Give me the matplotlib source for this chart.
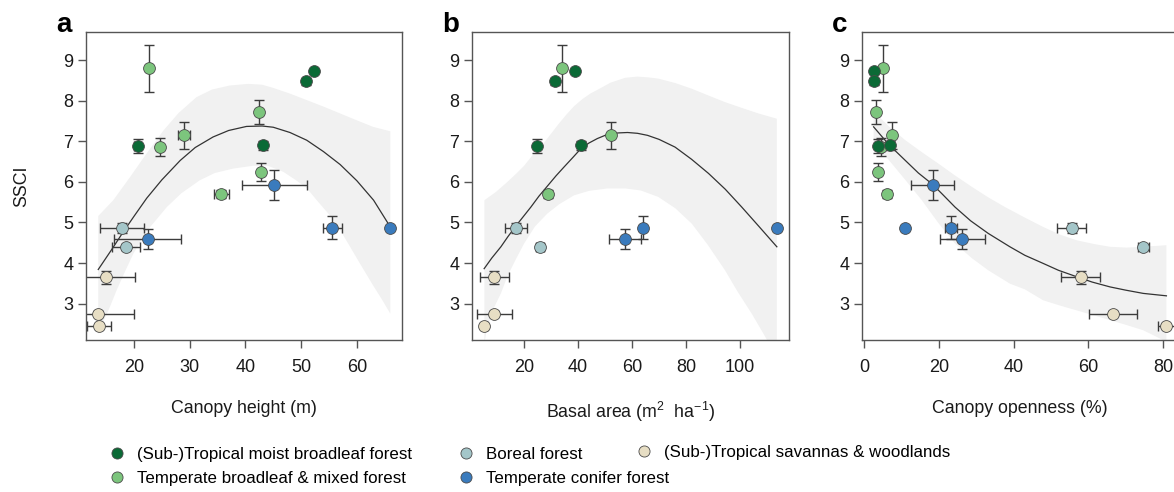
import matplotlib
matplotlib.use("Agg")
import matplotlib.pyplot as plt
from matplotlib.lines import Line2D
import numpy as np

plt.rcParams['font.family'] = ['Liberation Sans', 'DejaVu Sans']
plt.rcParams['mathtext.fontset'] = 'custom'
plt.rcParams['mathtext.rm'] = 'Liberation Sans'
plt.rcParams['mathtext.it'] = 'Liberation Sans:italic'

# one entry per site
biome = ["trop", "trop", "trop", "trop",
         "temp", "temp", "temp", "temp", "temp", "temp",
         "boreal", "boreal",
         "savanna", "savanna", "savanna",
         "conifer", "conifer", "conifer", "conifer"]
ssci = [8.74, 8.48, 6.88, 6.90,
        8.81, 7.73, 7.15, 6.87, 6.25, 5.71,
        4.87, 4.40,
        3.65, 2.75, 2.45,
        5.93, 4.60, 4.87, 4.87]
ssci_se = [0.05, 0.08, 0.17, 0.10,
           0.58, 0.30, 0.33, 0.22, 0.22, 0.10,
           0.12, 0.08,
           0.16, 0.07, 0.05,
           0.37, 0.25, 0.29, 0.03]
height = [52.3, 50.8, 20.7, 43.1,
          22.7, 42.4, 29.0, 24.7, 42.8, 35.7,
          17.9, 18.5,
          14.9, 13.5, 13.7,
          45.2, 22.5, 55.6, 66.0]
height_se = [0.4, 0.4, 0.6, 0.5,
             0.3, 0.4, 1.15, 0.3, 0.3, 1.3,
             3.95, 2.5,
             5.3, 6.5, 2.1,
             5.8, 6.0, 1.75, 0.0]
basal = [38.9, 31.6, 24.7, 41.0,
         34.2, np.nan, 52.2, np.nan, np.nan, 28.9,
         17.0, 25.9,
         9.0, 8.9, 5.3,
         np.nan, 57.3, 64.2, 113.6]
basal_se = [0.0, 0.0, 0.0, 0.0,
            0.0, 0.0, 0.0, 0.0, 0.0, 0.8,
            4.1, 1.5,
            5.5, 6.5, 0.8,
            0.0, 6.0, 0.5, 0.0]
openness = [2.5, 2.7, 3.6, 7.0,
            5.1, 3.2, 7.4, 4.5, 3.8, 6.2,
            55.5, 74.7,
            58.0, 66.7, 80.9,
            18.3, 26.3, 23.2, 10.8]
openness_se = [0.0, 0.0, 0.0, 0.0,
               0.0, 0.0, 0.0, 0.0, 0.0, 0.6,
               4.0, 1.5,
               5.2, 6.4, 2.2,
               5.8, 6.0, 1.5, 0.0]

# fitted curves and confidence bands
fit_height_x = [13.6, 16, 18, 20, 22.3, 25, 28.3, 31, 34.2, 37, 40.2, 43,
                45, 48, 51, 54, 57, 60, 63, 66]
fit_height_y = [3.84, 4.33, 4.75, 5.15, 5.60, 6.05, 6.53, 6.85, 7.11, 7.27,
                7.37, 7.38, 7.35, 7.22, 7.03, 6.75, 6.43, 6.03, 5.55, 4.89]
band_height_hi_x = [13.6, 16.3, 19.3, 22, 25.3, 28, 31.2, 34, 37.2, 40.5, 43,
                    45, 48, 51, 54, 57, 60, 62.9, 66]
band_height_hi = [5.16, 5.55, 6.12, 6.65, 7.27, 7.70, 8.09, 8.28, 8.38, 8.42,
                  8.40, 8.32, 8.18, 8.02, 7.86, 7.69, 7.52, 7.36, 7.25]
band_height_lo_x = [13.6, 14.5, 15.7, 16.9, 18.5, 19.9, 22.5, 25.9, 28.5,
                    31.8, 34.5, 37.8, 41.4, 44, 46.8, 49, 51, 52.8, 55, 57,
                    58.7, 60.5, 62.9, 64.5, 66]
band_height_lo = [2.25, 2.55, 2.92, 3.33, 3.82, 4.23, 4.82, 5.38, 5.72, 6.04,
                  6.22, 6.33, 6.40, 6.40, 6.25, 6.05, 5.85, 5.55, 5.20, 4.81,
                  4.42, 4.00, 3.45, 3.10, 2.75]

fit_basal_x = [5.2, 8, 11.4, 14, 16.9, 20, 22.5, 25.5, 28.9, 31.8, 34.8, 38,
               41, 44, 47.1, 50, 52.1, 55, 58.3, 62, 65.7, 70, 75.9, 82,
               88.3, 94.5, 100.6, 107, 113.6]
fit_basal_y = [3.86, 4.12, 4.40, 4.65, 4.91, 5.17, 5.38, 5.65, 5.92, 6.15,
               6.37, 6.60, 6.82, 6.96, 7.07, 7.15, 7.19, 7.21, 7.22, 7.20,
               7.15, 7.05, 6.86, 6.56, 6.21, 5.82, 5.38, 4.90, 4.40]
band_basal_hi_x = [5.3, 9.5, 13.8, 17, 20, 23, 26, 29.5, 33, 35.5, 38.5,
                   41.7, 44.5, 47.9, 52, 57.4, 62, 66, 69.7, 76, 82.1, 88,
                   94.4, 100.5, 106.8, 113.6]
band_basal_hi = [5.55, 5.75, 6.00, 6.20, 6.40, 6.65, 6.85, 7.15, 7.45, 7.65,
                 7.87, 8.05, 8.18, 8.30, 8.45, 8.57, 8.60, 8.58, 8.55, 8.44,
                 8.30, 8.14, 7.97, 7.83, 7.69, 7.56]
band_basal_lo_x = [5.3, 6, 8.5, 11.4, 14, 17, 20, 24, 28.6, 33, 38.5, 44,
                   50.9, 57.4, 63.2, 69.7, 76, 82.1, 88, 94.4, 99, 104.3,
                   109.3, 111.5, 113.6]
band_basal_lo = [2.00, 2.30, 2.85, 3.25, 3.70, 4.10, 4.48, 4.90, 5.22, 5.45,
                 5.67, 5.78, 5.84, 5.84, 5.79, 5.63, 5.35, 4.97, 4.45, 3.82,
                 3.30, 2.75, 2.18, 1.90, 1.60]

fit_open_x = [2.5, 6.5, 11, 14.5, 18.3, 21, 24.3, 28.5, 33.2, 39, 43, 47.9,
              52, 56.9, 61, 65.8, 70, 74.7, 80.9]
fit_open_y = [7.36, 6.93, 6.53, 6.22, 5.94, 5.69, 5.38, 5.04, 4.73, 4.40,
              4.19, 3.99, 3.82, 3.66, 3.53, 3.41, 3.33, 3.25, 3.19]
band_open_hi_x = [2.5, 6.5, 11, 15.5, 19.9, 24.3, 28.8, 33.2, 37.7, 43,
                  47.9, 52.4, 56.9, 61.4, 65.8, 70.2, 74.7, 80.9]
band_open_hi = [7.75, 7.38, 7.03, 6.73, 6.45, 6.16, 5.88, 5.62, 5.38, 5.12,
                4.89, 4.70, 4.56, 4.47, 4.40, 4.38, 4.40, 4.44]
band_open_lo_x = [2.5, 6.5, 11, 15.4, 19.9, 24.3, 28.8, 33.2, 39, 43, 47.9,
                  52.4, 56.9, 61.4, 65.8, 70.2, 74.7, 79.1, 80.9]
band_open_lo = [6.95, 6.55, 6.05, 5.55, 4.98, 4.48, 4.12, 3.82, 3.49, 3.35,
                3.08, 2.95, 2.83, 2.71, 2.59, 2.47, 2.34, 2.14, 2.05]

biome_colors = {"trop": "#0b6a36", "temp": "#7cc57d", "boreal": "#a4c6c9",
                "savanna": "#e7dec4", "conifer": "#3a7bbd"}
biome_names = {"trop": "(Sub-)Tropical moist broadleaf forest",
               "temp": "Temperate broadleaf & mixed forest",
               "boreal": "Boreal forest",
               "savanna": "(Sub-)Tropical savannas & woodlands",
               "conifer": "Temperate conifer forest"}

axis_col = "#555555"
err_col = "#3c3c3c"

biome = np.array(biome)
ssci = np.array(ssci)
ssci_se = np.array(ssci_se)

fig = plt.figure(figsize=(11.74, 4.92), dpi=100)
W, H = 1174.0, 492.0
ax_a = fig.add_axes([86 / W, 152 / H, 316 / W, 308 / H])
ax_b = fig.add_axes([472 / W, 152 / H, 317 / W, 308 / H])
ax_c = fig.add_axes([862 / W, 152 / H, 316 / W, 308 / H])

panels = [
    (ax_a, height, height_se, fit_height_x, fit_height_y,
     band_height_hi_x, band_height_hi, band_height_lo_x, band_height_lo,
     (11.4, 68.1), np.arange(20, 61, 10), "Canopy height (m)", "a"),
    (ax_b, basal, basal_se, fit_basal_x, fit_basal_y,
     band_basal_hi_x, band_basal_hi, band_basal_lo_x, band_basal_lo,
     (0.7, 118.1), np.arange(20, 101, 20),
     r"Basal area (m$^{2}$  ha$^{-1}$)", "b"),
    (ax_c, openness, openness_se, fit_open_x, fit_open_y,
     band_open_hi_x, band_open_hi, band_open_lo_x, band_open_lo,
     (-0.6, 84.0), np.arange(0, 81, 20), "Canopy openness (%)", "c"),
]

for (ax, xv, xse, fx, fy, hx, hy, lx, ly, xlim, xticks, xlab, letter) in panels:
    xv = np.array(xv, dtype=float)
    xse = np.array(xse, dtype=float)

    ax.fill(np.r_[hx, lx[::-1]], np.r_[hy, ly[::-1]],
            color="#f1f1f1", lw=0, zorder=0)
    ax.plot(fx, fy, color="#333333", lw=0.9, zorder=1)

    ok = ~np.isnan(xv)
    has_y = ok & (ssci_se > 0.04)
    has_x = ok & (xse > 0)
    ax.errorbar(xv[has_y], ssci[has_y], yerr=ssci_se[has_y], fmt="none",
                ecolor=err_col, elinewidth=1.0, capsize=3.6, capthick=1.0,
                zorder=2)
    ax.errorbar(xv[has_x], ssci[has_x], xerr=xse[has_x], fmt="none",
                ecolor=err_col, elinewidth=1.0, capsize=3.6, capthick=1.0,
                zorder=2)

    for b in ["temp", "boreal", "savanna", "conifer", "trop"]:
        m = ok & (biome == b)
        ax.plot(xv[m], ssci[m], "o", ms=8.5, mfc=biome_colors[b],
                mec="#4a4a4a", mew=0.6, zorder=3)

    ax.set_xlim(*xlim)
    ax.set_ylim(2.1, 9.7)
    ax.set_xticks(xticks)
    ax.set_yticks(range(3, 10))
    ax.tick_params(direction="out", length=6, width=1, color=axis_col,
                   labelsize=13, labelcolor="#1a1a1a")
    ax.tick_params(axis="x", pad=8)
    ax.tick_params(axis="y", pad=3)
    for s in ax.spines.values():
        s.set_color(axis_col)
        s.set_linewidth(1.0)
    ax.set_xlabel(xlab, fontsize=12.8, labelpad=17, color="#1a1a1a")

    pos = ax.get_position()
    fig.text(pos.x0 - 30 / W, 0.935, letter, fontsize=20, fontweight="bold",
             va="baseline", ha="left")

ax_a.set_ylabel("SSCI", fontsize=12.8, labelpad=24, color="#1a1a1a")


def handle(b):
    return Line2D([], [], ls="none", marker="o", ms=8,
                  mfc=biome_colors[b], mec="#4a4a4a", mew=0.6)


legend_groups = [(["trop", "temp"], 109 / W, 466.5 / H),
                 (["boreal", "conifer"], 458 / W, 466.5 / H),
                 (["savanna"], 636 / W, 452 / H)]
for keys, x0, yc in legend_groups:
    fig.legend([handle(k) for k in keys], [biome_names[k] for k in keys],
               loc="center left", bbox_to_anchor=(x0, 1 - yc),
               frameon=False, fontsize=12.2, handlelength=1.0,
               handletextpad=0.65, labelspacing=0.55, borderpad=0,
               borderaxespad=0)

fig.savefig("out.png", dpi=100)
